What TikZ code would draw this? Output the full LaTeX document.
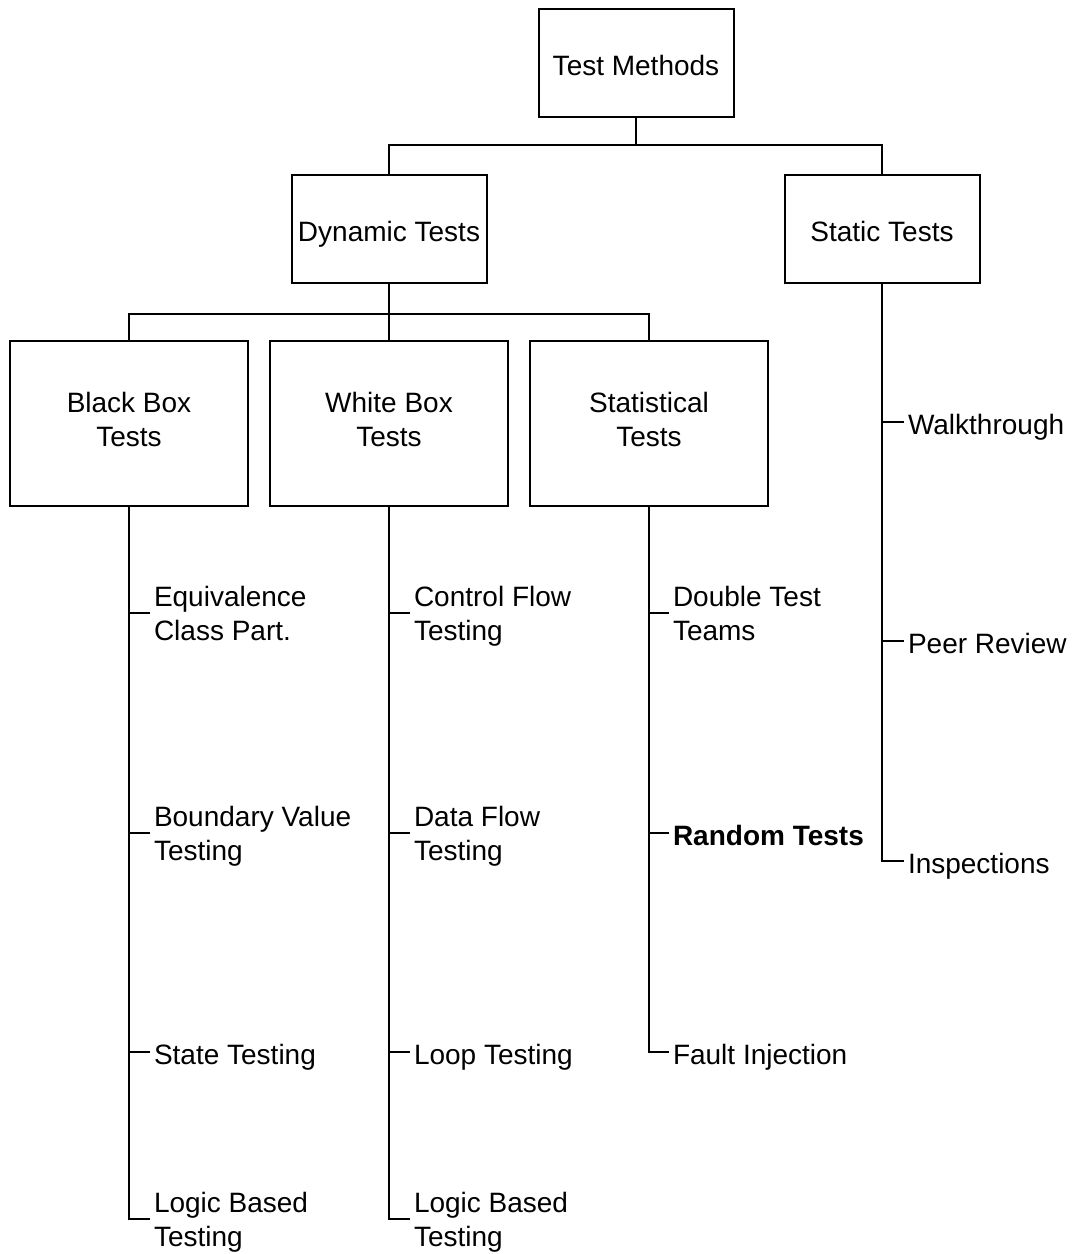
\documentclass[tikz,border=0pt]{standalone}
\usepackage{fontspec}
\setmainfont{Liberation Sans}
\usetikzlibrary{positioning}

% invisible strut so every line sits at the same height
\newcommand{\labelstrut}{\rule[-3.5pt]{0pt}{19pt}}

\begin{document}
\begin{tikzpicture}[
    x=0.5pt, y=-0.5pt,
    line width=1pt,
    every node/.style={font=\fontsize{14}{17}\selectfont, align=center,
        execute at begin node=\labelstrut, execute at end node=\labelstrut},
    box/.style={draw, minimum width=97.5pt, minimum height=54pt, inner sep=1pt},
    group/.style={draw, minimum width=119pt, minimum height=82.5pt},
    leaf/.style={anchor=west, align=left, inner xsep=1.5pt},
    leafpair/.style={leaf, text depth=0pt}
]
\useasboundingbox (0,0) rectangle (1078,1254);

\node[box] (methods) at (636,63) {Test Methods};
\node[box] (dynamic) at (389,229) {Dynamic Tests};
\node[box] (static) at (882,229) {Static Tests};

\node[group] (blackbox) at (129,423) {Black Box\\Tests};
\node[group, right=10pt of blackbox] (whitebox) {White Box\\Tests};
\node[group, right=10pt of whitebox] (statbox) {Statistical\\Tests};

\node[leafpair] (eqv) at (150,613) {Equivalence\\Class Part.};
\node[leafpair] (bva) at (150,833) {Boundary Value\\Testing};
\node[leaf] (state) at (150,1052) {State Testing};
\node[leafpair] (logicb) at (150,1219) {Logic Based\\Testing};

\node[leafpair] (cflow) at (410,613) {Control Flow\\Testing};
\node[leafpair] (dflow) at (410,833) {Data Flow\\Testing};
\node[leaf] (loop) at (410,1052) {Loop Testing};
\node[leafpair] (logicw) at (410,1219) {Logic Based\\Testing};

\node[leafpair] (dtt) at (669,613) {Double Test\\Teams};
\node[leaf] (rnd) at (669,833) {\bfseries Random Tests};
\node[leaf] (fault) at (669,1052) {Fault Injection};

\node[leaf] (walk) at (904,422) {Walkthrough};
\node[leaf] (peer) at (904,641) {Peer Review};
\node[leaf] (insp) at (904,861) {Inspections};

\draw (methods.south) -- ++(0,27) -| (dynamic.north);
\draw (methods.south) -- ++(0,27) -| (static.north);
\draw (dynamic.south) -- ++(0,30) -| (blackbox.north);
\draw (dynamic.south) -- ++(0,30) -| (whitebox.north);
\draw (dynamic.south) -- ++(0,30) -| (statbox.north);

\draw (blackbox.south) |- (eqv.west);
\draw (blackbox.south) |- (bva.west);
\draw (blackbox.south) |- (state.west);
\draw (blackbox.south) |- (logicb.west);
\draw (whitebox.south) |- (cflow.west);
\draw (whitebox.south) |- (dflow.west);
\draw (whitebox.south) |- (loop.west);
\draw (whitebox.south) |- (logicw.west);
\draw (statbox.south) |- (dtt.west);
\draw (statbox.south) |- (rnd.west);
\draw (statbox.south) |- (fault.west);
\draw (static.south) |- (walk.west);
\draw (static.south) |- (peer.west);
\draw (static.south) |- (insp.west);
\end{tikzpicture}
\end{document}
